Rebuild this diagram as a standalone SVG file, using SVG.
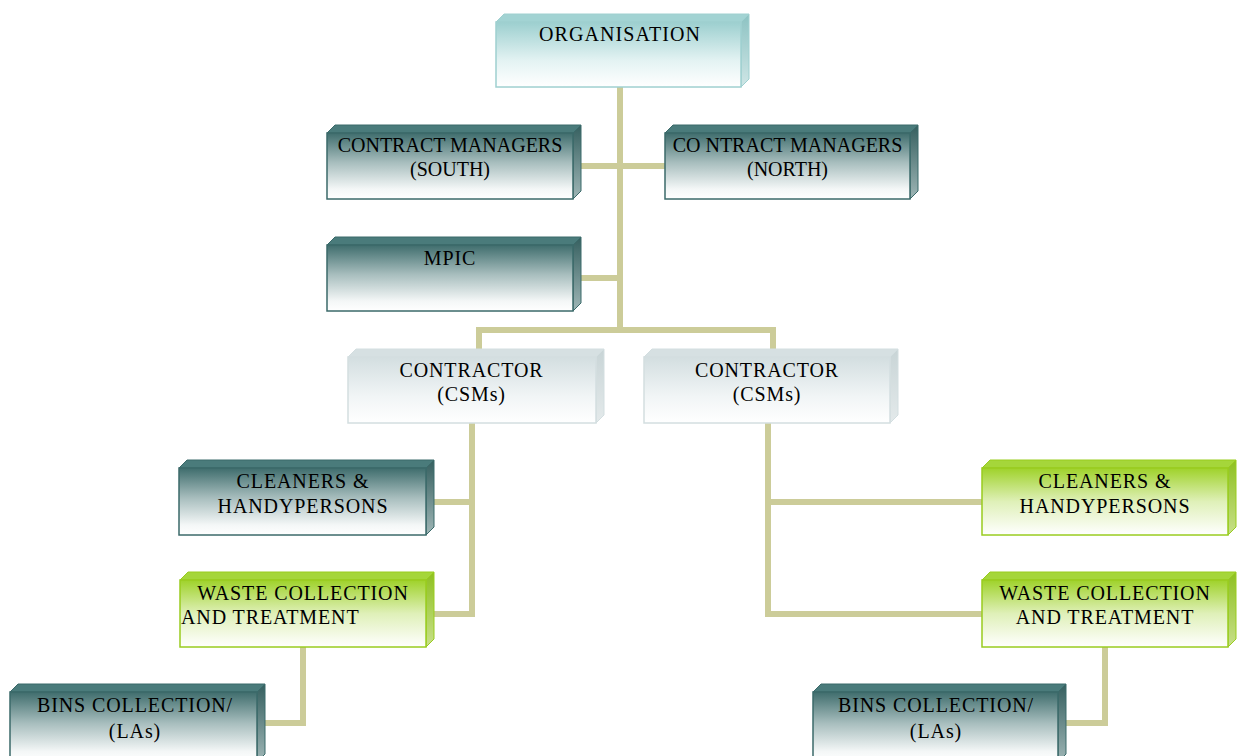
<svg xmlns="http://www.w3.org/2000/svg" width="1239" height="756" viewBox="0 0 1239 756">
<defs>
<linearGradient id="gDark" x1="0" y1="0" x2="0" y2="1"><stop offset="0" stop-color="#3f6d6d"/><stop offset="0.45" stop-color="#a8bebe"/><stop offset="0.85" stop-color="#f4f7f7"/><stop offset="1" stop-color="#ffffff"/></linearGradient>
<linearGradient id="gDarkSide" x1="0" y1="0" x2="0" y2="1"><stop offset="0" stop-color="#355f5f"/><stop offset="1" stop-color="#9fb6b6"/></linearGradient>
<linearGradient id="gTeal" x1="0" y1="0" x2="0" y2="1"><stop offset="0" stop-color="#9ccfcf"/><stop offset="0.6" stop-color="#e4f3f3"/><stop offset="1" stop-color="#ffffff"/></linearGradient>
<linearGradient id="gTealSide" x1="0" y1="0" x2="0" y2="1"><stop offset="0" stop-color="#8cc2c2"/><stop offset="1" stop-color="#cfe6e6"/></linearGradient>
<linearGradient id="gGray" x1="0" y1="0" x2="0" y2="1"><stop offset="0" stop-color="#d3dee0"/><stop offset="0.6" stop-color="#f1f5f6"/><stop offset="1" stop-color="#ffffff"/></linearGradient>
<linearGradient id="gGraySide" x1="0" y1="0" x2="0" y2="1"><stop offset="0" stop-color="#c8d4d6"/><stop offset="1" stop-color="#e4eaeb"/></linearGradient>
<linearGradient id="gGreen" x1="0" y1="0" x2="0" y2="1"><stop offset="0" stop-color="#9fd22a"/><stop offset="0.5" stop-color="#dff0b8"/><stop offset="1" stop-color="#ffffff"/></linearGradient>
<linearGradient id="gGreenSide" x1="0" y1="0" x2="0" y2="1"><stop offset="0" stop-color="#8ec020"/><stop offset="1" stop-color="#c8e08a"/></linearGradient>
</defs>
<style>
.conn{fill:none;stroke:#cccc99;stroke-width:6;stroke-linecap:butt;stroke-linejoin:miter}
.dark .front{fill:url(#gDark);stroke:#3b6a6a;stroke-width:1.5}
.dark .top{fill:#4a7b7b;stroke:#3b6a6a;stroke-width:1}
.dark .side{fill:url(#gDarkSide);stroke:#3b6a6a;stroke-width:1}
.teal .front{fill:url(#gTeal);stroke:#9fd0d0;stroke-width:1.5}
.teal .top{fill:#a2d3d3;stroke:#9fd0d0;stroke-width:1}
.teal .side{fill:url(#gTealSide);stroke:#9fd0d0;stroke-width:1}
.gray .front{fill:url(#gGray);stroke:#d3dee0;stroke-width:1.5}
.gray .top{fill:#d6e0e2;stroke:#d3dee0;stroke-width:1}
.gray .side{fill:url(#gGraySide);stroke:#d3dee0;stroke-width:1}
.green .front{fill:url(#gGreen);stroke:#99cc1f;stroke-width:1.5}
.green .top{fill:#a5d63a;stroke:#99cc1f;stroke-width:1}
.green .side{fill:url(#gGreenSide);stroke:#99cc1f;stroke-width:1}
text{font-family:"Liberation Serif","Times New Roman",serif;font-size:20px;fill:#000;text-anchor:middle;letter-spacing:0.9px}
text.tight{letter-spacing:0}
</style>
<rect width="1239" height="756" fill="#ffffff"/>
<g id="connectors">
<path class="conn" d="M620,87 V330"/>
<path class="conn" d="M575,166 H666"/>
<path class="conn" d="M575,278 H620"/>
<path class="conn" d="M479,357 V330 H773 V357"/>
<path class="conn" d="M472,423 V614 H430"/>
<path class="conn" d="M472,502 H430"/>
<path class="conn" d="M768,423 V614 H983"/>
<path class="conn" d="M768,502 H983"/>
<path class="conn" d="M303,647 V723 H260"/>
<path class="conn" d="M1105,647 V723 H1061"/>
</g>
<g id="organisation" class="teal">
<polygon class="top" points="496,22 504,14 749,14 741,22"/>
<polygon class="side" points="741,22 749,14 749,79 741,87"/>
<rect class="front" x="496" y="22" width="245" height="65"/>
<text x="620" y="41" style="letter-spacing:1.1px">ORGANISATION</text>
</g>
<g id="cm-south" class="dark">
<polygon class="top" points="327,133 335,125 581,125 573,133"/>
<polygon class="side" points="573,133 581,125 581,191 573,199"/>
<rect class="front" x="327" y="133" width="246" height="66"/>
<text class="tight" x="450" y="152">CONTRACT MANAGERS</text>
<text class="tight" x="450" y="176">(SOUTH)</text>
</g>
<g id="cm-north" class="dark">
<polygon class="top" points="665,133 673,125 918,125 910,133"/>
<polygon class="side" points="910,133 918,125 918,191 910,199"/>
<rect class="front" x="665" y="133" width="245" height="66"/>
<text class="tight" x="787.5" y="152">CO NTRACT MANAGERS</text>
<text class="tight" x="787.5" y="176">(NORTH)</text>
</g>
<g id="mpic" class="dark">
<polygon class="top" points="327,245 335,237 581,237 573,245"/>
<polygon class="side" points="573,245 581,237 581,303 573,311"/>
<rect class="front" x="327" y="245" width="246" height="66"/>
<text x="450" y="265">MPIC</text>
</g>
<g id="contractor-left" class="gray">
<polygon class="top" points="348,357 356,349 604,349 596,357"/>
<polygon class="side" points="596,357 604,349 604,415 596,423"/>
<rect class="front" x="348" y="357" width="248" height="66"/>
<text x="471.5" y="377">CONTRACTOR</text>
<text x="471.5" y="401">(CSMs)</text>
</g>
<g id="contractor-right" class="gray">
<polygon class="top" points="644,357 652,349 898,349 890,357"/>
<polygon class="side" points="890,357 898,349 898,415 890,423"/>
<rect class="front" x="644" y="357" width="246" height="66"/>
<text x="767" y="377">CONTRACTOR</text>
<text x="767" y="401">(CSMs)</text>
</g>
<g id="cleaners-left" class="dark">
<polygon class="top" points="179,468 187,460 434,460 426,468"/>
<polygon class="side" points="426,468 434,460 434,527 426,535"/>
<rect class="front" x="179" y="468" width="247" height="67"/>
<text x="303" y="488">CLEANERS &amp;</text>
<text x="303" y="513">HANDYPERSONS</text>
</g>
<g id="waste-left" class="green">
<polygon class="top" points="180,580 188,572 434,572 426,580"/>
<polygon class="side" points="426,580 434,572 434,639 426,647"/>
<rect class="front" x="180" y="580" width="246" height="67"/>
<text x="303" y="600">WASTE COLLECTION</text>
<text x="181" y="624" style="text-anchor:start">AND TREATMENT</text>
</g>
<g id="cleaners-right" class="green">
<polygon class="top" points="982,468 990,460 1236,460 1228,468"/>
<polygon class="side" points="1228,468 1236,460 1236,527 1228,535"/>
<rect class="front" x="982" y="468" width="246" height="67"/>
<text x="1105" y="488">CLEANERS &amp;</text>
<text x="1105" y="513">HANDYPERSONS</text>
</g>
<g id="waste-right" class="green">
<polygon class="top" points="982,580 990,572 1236,572 1228,580"/>
<polygon class="side" points="1228,580 1236,572 1236,639 1228,647"/>
<rect class="front" x="982" y="580" width="246" height="67"/>
<text x="1105" y="600">WASTE COLLECTION</text>
<text x="1105" y="624">AND TREATMENT</text>
</g>
<g id="bins-left" class="dark">
<polygon class="top" points="10,692 18,684 265,684 257,692"/>
<polygon class="side" points="257,692 265,684 265,754 257,762"/>
<rect class="front" x="10" y="692" width="247" height="70"/>
<text x="135" y="712">BINS COLLECTION/</text>
<text x="135" y="738">(LAs)</text>
</g>
<g id="bins-right" class="dark">
<polygon class="top" points="813,692 821,684 1066,684 1058,692"/>
<polygon class="side" points="1058,692 1066,684 1066,754 1058,762"/>
<rect class="front" x="813" y="692" width="245" height="70"/>
<text x="936" y="712">BINS COLLECTION/</text>
<text x="936" y="738">(LAs)</text>
</g>
</svg>
